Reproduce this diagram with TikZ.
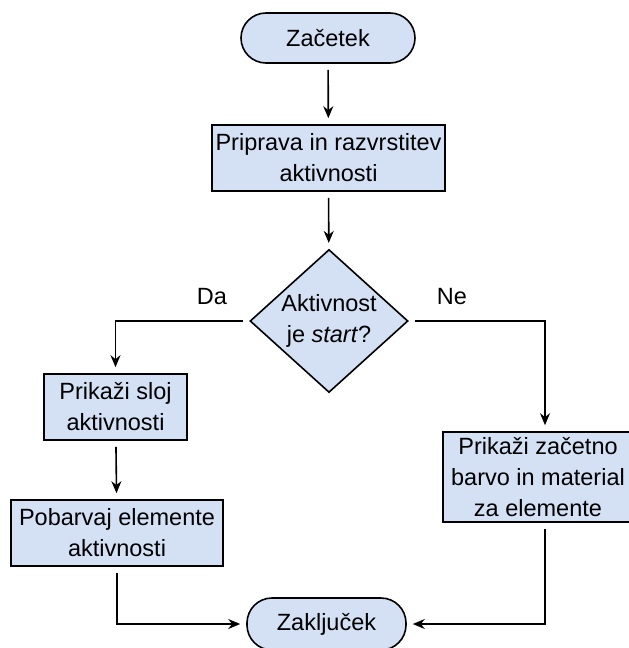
\documentclass[tikz,border=0pt]{standalone}
\usepackage{fontspec}
\setmainfont{Liberation Sans}
\usetikzlibrary{shapes.geometric,arrows.meta}
\definecolor{boxfill}{HTML}{D4E1F5}
\begin{document}
\begin{tikzpicture}[x=1pt,y=-1pt,
  font=\fontsize{23.5}{31}\selectfont,
  proc/.style={draw, fill=boxfill, line width=1.6pt, align=center,
    inner sep=0pt, minimum height=66pt},
  term/.style={draw, fill=boxfill, line width=1.6pt, rounded corners=25pt,
    inner sep=0pt, minimum height=50pt},
  decision/.style={draw, fill=boxfill, line width=1.6pt, diamond, aspect=1.1,
    align=center, inner sep=0pt, minimum width=158pt, minimum height=143pt},
  flow/.style={line width=1.6pt, -{Stealth[length=12pt,width=10pt]},
    shorten >=6pt, shorten <=6pt},
  lbl/.style={inner sep=0pt}]
\useasboundingbox (0,0) rectangle (629,648);
\clip (0,0) rectangle (629,648);

% nodes
\node[term, minimum width=174pt] (start) at (328,38) {Začetek};
\node[proc, minimum width=233pt] (prep) at (328.5,158) {Priprava in razvrstitev\\aktivnosti};
\node[decision] (dec) at (329,321) {Aktivnost\\je \textit{start}?};
\node[proc, minimum width=143pt] (sloj) at (115.5,407) {Prikaži sloj\\aktivnosti};
\node[proc, minimum width=212pt] (pob) at (117,533) {Pobarvaj elemente\\aktivnosti};
\node[proc, minimum width=190pt, minimum height=90pt] (mat) at (538,477)
  {Prikaži začetno\\barvo in material\\za elemente};
\node[term, minimum width=159pt, minimum height=52pt] (end) at (326.5,624) {Zaključek};

% branch labels
\node[lbl] (da) at (212,297) {Da};
\node[lbl] (ne) at (452,297) {Ne};

% connectors
\coordinate (matN) at ([xshift=7pt]mat.north);
\coordinate (matS) at ([xshift=7pt]mat.south);
\draw[flow] (start) -- (prep);
\draw[flow] (prep) -- (dec);
\draw[flow] (dec.west) -| (sloj.north);
\draw[flow] (sloj) -- (pob);
\draw[flow] (dec.east) -| (matN);
\draw[flow] (pob.south) |- (end.west);
\draw[flow] (matS) |- (end.east);
\end{tikzpicture}
\end{document}
